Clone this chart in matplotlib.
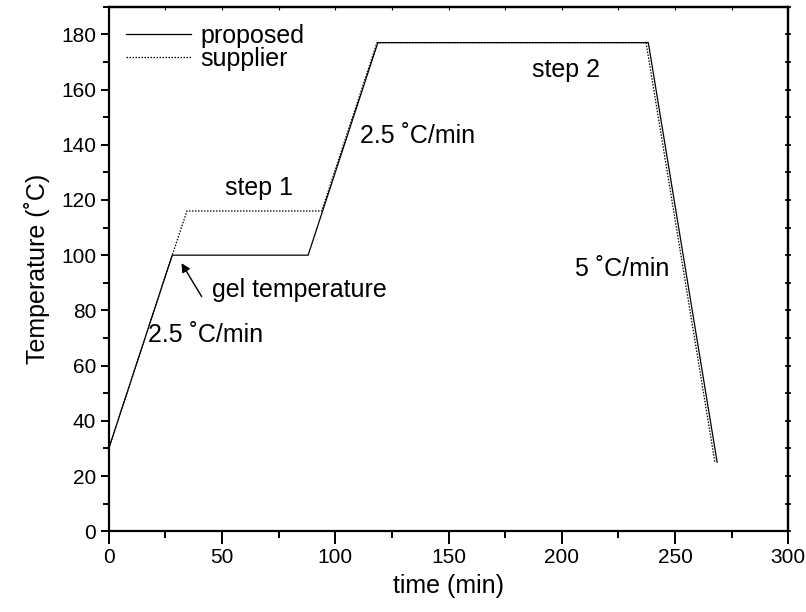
import matplotlib
matplotlib.use("Agg")
import matplotlib.pyplot as plt
from matplotlib.ticker import MultipleLocator

plt.rcParams["font.family"] = ["Liberation Sans", "DejaVu Sans"]

# cure cycles (time in min, temperature in C)
proposed_t = [0, 28, 88, 118.8, 238.2, 268.6]
proposed_T = [30, 100, 100, 177, 177, 25]
supplier_t = [0, 28, 34.5, 94, 118.4, 237.2, 267.6]
supplier_T = [30, 100, 116, 116, 177, 177, 25]

x_ticks = [0, 50, 100, 150, 200, 250, 300]
y_ticks = [0, 20, 40, 60, 80, 100, 120, 140, 160, 180]


def main():
    fig = plt.figure(figsize=(8.06, 6.12), dpi=100)
    ax = fig.add_axes([0.135, 0.132, 0.843, 0.857])

    ax.plot(proposed_t, proposed_T, "-", color="k", lw=0.9, label="proposed")
    ax.plot(supplier_t, supplier_T, color="k", lw=0.9, ls=(0, (1.2, 1.2)),
            label="supplier")

    ax.set_xlim(0, 300)
    ax.set_ylim(0, 190)
    ax.set_xticks(x_ticks)
    ax.set_yticks(y_ticks)
    ax.xaxis.set_minor_locator(MultipleLocator(25))
    ax.yaxis.set_minor_locator(MultipleLocator(10))

    for s in ax.spines.values():
        s.set_linewidth(1.6)
    ax.tick_params(which="both", width=1.4, labelsize=15)
    ax.tick_params(axis="x", which="major", length=9, pad=3)
    ax.tick_params(axis="x", which="minor", length=5)
    ax.tick_params(axis="y", which="major", length=6, pad=3)
    ax.tick_params(axis="y", which="minor", length=4)
    # small ticks on the opposite spines
    ax2 = ax.secondary_xaxis("top")
    ax2.set_xticks(x_ticks)
    ax2.xaxis.set_minor_locator(MultipleLocator(25))
    ax2.tick_params(which="both", direction="in", length=2, width=0.8)
    ax2.set_xticklabels([])
    ax3 = ax.secondary_yaxis("right")
    ax3.set_yticks(y_ticks)
    ax3.yaxis.set_minor_locator(MultipleLocator(10))
    ax3.tick_params(which="both", direction="inout", length=4, width=1.2)
    ax3.set_yticklabels([])
    for a in (ax2, ax3):
        for s in a.spines.values():
            s.set_linewidth(1.6)

    ax.set_xlabel("time (min)", fontsize=18, labelpad=5)
    ax.set_ylabel("Temperature (\u02daC)", fontsize=18, labelpad=8)

    fs = 18
    ax.text(66.5, 124.5, "step 1", fontsize=fs, ha="center", va="center")
    ax.text(202, 167, "step 2", fontsize=fs, ha="center", va="center")
    ax.text(111, 143, "2.5 \u02daC/min", fontsize=fs, ha="left", va="center")
    ax.text(206, 95, "5 \u02daC/min", fontsize=fs, ha="left", va="center")
    ax.text(17.5, 71, "2.5 \u02daC/min", fontsize=fs, ha="left", va="center")
    ax.text(45.5, 87.5, "gel temperature", fontsize=fs, ha="left", va="center")
    ax.annotate("", xy=(32.1, 97.1), xytext=(41, 85),
                arrowprops=dict(arrowstyle="-|>", color="k", lw=1.0,
                                shrinkA=0, shrinkB=0, mutation_scale=13))

    ax.legend(loc="upper left", fontsize=18, frameon=False,
              handlelength=2.6, handletextpad=0.35, labelspacing=-0.05,
              borderpad=0.2, borderaxespad=0.5)

    fig.savefig("out.png", dpi=100)


if __name__ == "__main__":
    main()
